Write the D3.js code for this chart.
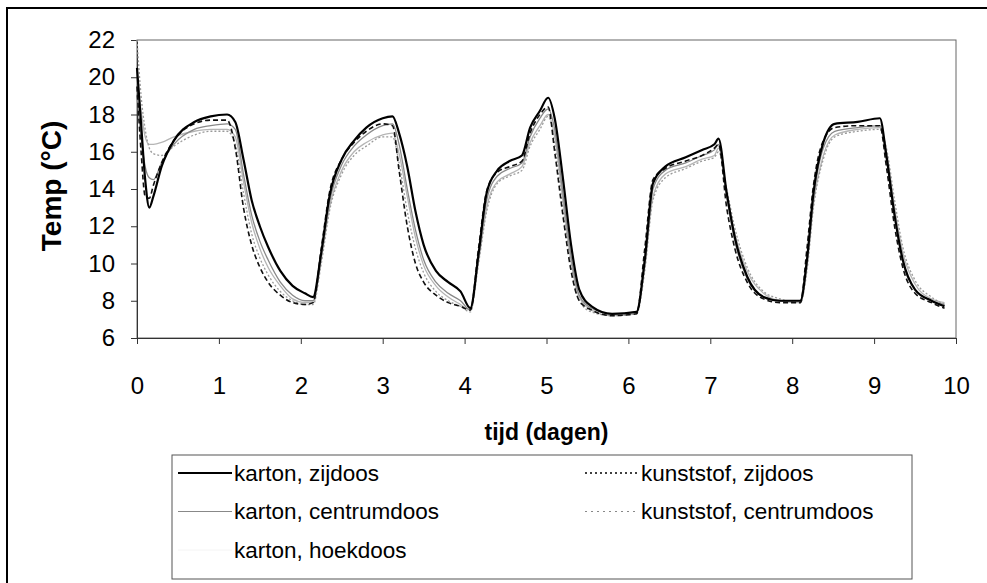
<!DOCTYPE html>
<html>
<head>
<meta charset="utf-8">
<script src="https://cdn.jsdelivr.net/npm/d3@7"></script>
<style>
  body { margin: 0; background: #fff; }
  text { font-family: "Liberation Sans", Arial, sans-serif; }
</style>
</head>
<body>
<script>
let width = 987
let height = 583

// tijd in dagen
const tijd = [0, 0.05, 0.1, 0.15, 0.2, 0.3, 0.45, 0.7, 0.9, 1.1,
  1.2, 1.3, 1.4, 1.5, 1.6, 1.75, 1.9, 2.05, 2.15, 2.25,
  2.35, 2.5, 2.65, 2.8, 3.0, 3.12, 3.2, 3.3, 3.4, 3.5,
  3.65, 3.8, 3.95, 4.07, 4.17, 4.27, 4.4, 4.55, 4.7, 4.8,
  4.92, 5.02, 5.1, 5.2, 5.3, 5.4, 5.55, 5.8, 6.1, 6.2,
  6.3, 6.45, 6.7, 6.9, 7.05, 7.1, 7.2, 7.3, 7.45, 7.65,
  7.85, 8.1, 8.18, 8.26, 8.38, 8.52, 8.8, 9.07, 9.15, 9.25,
  9.35, 9.5, 9.7, 9.86]

const kartonZij = [20.5, 17.5, 14.5, 13.0, 13.6, 15.2, 16.6, 17.6, 17.9, 18.0,
  17.6, 15.6, 13.4, 12.0, 10.9, 9.6, 8.8, 8.4, 8.2, 10.6,
  13.6, 15.6, 16.6, 17.3, 17.8, 17.9, 17.0, 15.2, 12.8, 11.0,
  9.6, 9.0, 8.5, 7.6, 10.5, 13.8, 15.0, 15.5, 15.8, 17.3,
  18.2, 18.9, 17.8, 14.6, 11.0, 8.6, 7.7, 7.3, 7.4, 10.2,
  14.3, 15.2, 15.7, 16.1, 16.4, 16.7, 13.8, 11.4, 9.3, 8.2,
  8.0, 8.0, 10.2, 13.8, 16.5, 17.5, 17.6, 17.8, 15.8, 12.6,
  10.2, 8.6, 8.0, 7.7]

const kartonCentrum = [19.0, 16.8, 15.2, 14.6, 14.5, 15.4, 16.4, 17.2, 17.4, 17.5,
  17.2, 14.8, 12.6, 11.2, 10.2, 9.0, 8.3, 8.0, 8.0, 10.4,
  13.3, 15.3, 16.3, 16.9, 17.4, 17.5, 16.4, 14.0, 11.8, 10.2,
  9.0, 8.4, 8.0, 7.5, 10.3, 13.4, 14.7, 15.1, 15.4, 16.8,
  17.8, 18.3, 17.2, 13.8, 10.4, 8.3, 7.6, 7.3, 7.4, 10.0,
  14.0, 15.0, 15.4, 15.8, 16.1, 16.4, 13.6, 11.2, 9.2, 8.2,
  8.0, 8.0, 10.0, 13.5, 16.2, 17.1, 17.3, 17.4, 15.6, 12.5,
  10.1, 8.6, 8.0, 7.8]

const kartonHoek = [19.8, 18.2, 16.8, 16.4, 16.4, 16.5, 16.8, 17.1, 17.2, 17.2,
  16.8, 14.4, 12.2, 10.8, 9.8, 8.8, 8.1, 7.9, 7.9, 10.2,
  13.0, 15.0, 16.0, 16.5, 16.9, 17.0, 15.9, 13.6, 11.4, 9.9,
  8.8, 8.2, 7.8, 7.5, 10.1, 13.0, 14.4, 14.8, 15.2, 16.5,
  17.4, 18.0, 16.8, 13.4, 10.1, 8.2, 7.5, 7.2, 7.3, 9.8,
  13.6, 14.8, 15.2, 15.6, 15.8, 16.2, 13.8, 11.6, 9.6, 8.4,
  8.0, 7.9, 9.8, 13.2, 15.8, 16.9, 17.2, 17.3, 16.0, 13.0,
  10.6, 8.9, 8.1, 7.9]

const kunststofZij = [19.5, 16.0, 13.6, 13.5, 14.2, 15.4, 16.6, 17.5, 17.7, 17.7,
  16.2, 13.0, 11.0, 9.8, 9.0, 8.3, 7.9, 7.8, 7.9, 10.8,
  13.8, 15.6, 16.5, 17.1, 17.5, 17.4, 15.0, 12.0, 10.0, 9.0,
  8.3, 7.9, 7.7, 7.5, 10.8, 13.9, 14.9, 15.2, 15.5, 17.0,
  18.0, 18.4, 16.0, 12.6, 9.6, 8.0, 7.5, 7.2, 7.3, 10.8,
  14.5, 15.1, 15.5, 15.8, 16.2, 16.4, 13.0, 10.8, 9.0, 8.1,
  7.9, 7.9, 10.8, 14.2, 16.6, 17.3, 17.4, 17.4, 15.2, 12.0,
  9.8, 8.4, 7.9, 7.6]

const kunststofCentrum = [22.0, 19.0, 17.2, 16.2, 15.9, 15.8, 16.3, 16.9, 17.1, 17.1,
  16.4, 13.8, 11.6, 10.3, 9.4, 8.5, 8.0, 7.8, 7.8, 10.0,
  12.8, 14.8, 15.8, 16.3, 16.8, 16.8, 15.4, 12.8, 10.8, 9.5,
  8.5, 8.0, 7.7, 7.4, 10.0, 12.8, 14.3, 14.7, 15.0, 16.3,
  17.2, 17.9, 16.4, 13.0, 9.9, 8.0, 7.4, 7.2, 7.3, 9.6,
  13.4, 14.6, 15.1, 15.5, 15.7, 16.0, 14.0, 11.9, 9.8, 8.5,
  8.1, 7.9, 9.6, 13.0, 15.6, 16.8, 17.1, 17.2, 16.2, 13.4,
  10.9, 9.1, 8.2, 7.8]

const xTicks = [0, 1, 2, 3, 4, 5, 6, 7, 8, 9, 10]
const yTicks = [6, 8, 10, 12, 14, 16, 18, 20, 22]

// drawing order: light lines first, the thick black one on top
const series = [
  { values: kartonHoek, color: '#b5b5b5', w: 1.3, dash: null },
  { values: kunststofCentrum, color: '#9a9a9a', w: 1.3, dash: '2,2' },
  { values: kartonCentrum, color: '#888', w: 1.3, dash: null },
  { values: kunststofZij, color: '#111', w: 1.6, dash: '5,3' },
  { values: kartonZij, color: '#000', w: 2.2, dash: null }
]

const svg = d3.select('body')
  .append('svg')
  .attr('width', width)
  .attr('height', height)

// outer frame (only top and left visible in the scan)
svg.append('path')
  .attr('d', 'M7,583 V8 H987')
  .attr('fill', 'none')
  .attr('stroke', '#000')
  .attr('stroke-width', 2)

const x = d3.scaleLinear().domain([0, 10]).range([137, 956])
const y = d3.scaleLinear().domain([6, 22]).range([338, 40])

// plot frame
svg.append('rect')
  .attr('x', x(0)).attr('y', y(22))
  .attr('width', x(10) - x(0)).attr('height', y(6) - y(22))
  .attr('fill', 'none')
  .attr('stroke', '#666')
  .attr('stroke-width', 1)

const xAxis = svg.append('g')
  .attr('transform', `translate(0,${y(6)})`)
  .call(d3.axisBottom(x).tickValues(xTicks).tickSize(6).tickPadding(33).tickFormat(d3.format('d')))
xAxis.select('.domain').attr('stroke', '#333')
xAxis.selectAll('.tick line').attr('stroke', '#333')
xAxis.selectAll('text').style('font-size', '24px').attr('fill', '#000')

const yAxis = svg.append('g')
  .attr('transform', `translate(${x(0)},0)`)
  .call(d3.axisLeft(y).tickValues(yTicks).tickSize(6).tickPadding(16).tickFormat(d3.format('d')))
yAxis.select('.domain').attr('stroke', '#333')
yAxis.selectAll('.tick line').attr('stroke', '#333')
yAxis.selectAll('text').style('font-size', '24px').attr('fill', '#000')

const line = d3.line()
  .x((d, i) => x(tijd[i]))
  .y(d => y(d))
  .curve(d3.curveMonotoneX)

svg.append('g').selectAll('path')
  .data(series)
  .enter()
  .append('path')
    .attr('d', d => line(d.values))
    .attr('fill', 'none')
    .attr('stroke', d => d.color)
    .attr('stroke-width', d => d.w)
    .attr('stroke-dasharray', d => d.dash)
    .attr('stroke-linejoin', 'round')

svg.append('text')
  .attr('x', (x(0) + x(10)) / 2)
  .attr('y', 440)
  .attr('text-anchor', 'middle')
  .style('font-size', '23px')
  .style('font-weight', 'bold')
  .text('tijd (dagen)')

svg.append('text')
  .attr('transform', `translate(61,${(y(6) + y(22)) / 2 - 3}) rotate(-90)`)
  .attr('text-anchor', 'middle')
  .style('font-size', '28px')
  .style('font-weight', 'bold')
  .text('Temp (°C)')

// legend
const legendItems = [
  { label: 'karton, zijdoos', color: '#000', w: 2, dash: null, col: 0, row: 0 },
  { label: 'karton, centrumdoos', color: '#888', w: 1.2, dash: null, col: 0, row: 1 },
  { label: 'karton, hoekdoos', color: '#f4f4f4', w: 1, dash: null, col: 0, row: 2 },
  { label: 'kunststof, zijdoos', color: '#000', w: 1.6, dash: '2,3', col: 1, row: 0 },
  { label: 'kunststof, centrumdoos', color: '#888', w: 1.2, dash: '2,4', col: 1, row: 1 }
]

svg.append('rect')
  .attr('x', 172).attr('y', 455)
  .attr('width', 740).attr('height', 124)
  .attr('fill', 'none')
  .attr('stroke', '#555')
  .attr('stroke-width', 1)

const lg = svg.append('g').selectAll('g')
  .data(legendItems)
  .enter()
  .append('g')
    .attr('transform', d => `translate(${d.col === 0 ? 178 : 585},${473 + d.row * 38.5})`)

lg.append('line')
  .attr('x1', 0).attr('x2', 54)
  .attr('stroke', d => d.color)
  .attr('stroke-width', d => d.w)
  .attr('stroke-dasharray', d => d.dash)

lg.append('text')
  .attr('x', 56)
  .attr('dy', '0.35em')
  .style('font-size', '22.5px')
  .text(d => d.label)
</script>
</body>
</html>
